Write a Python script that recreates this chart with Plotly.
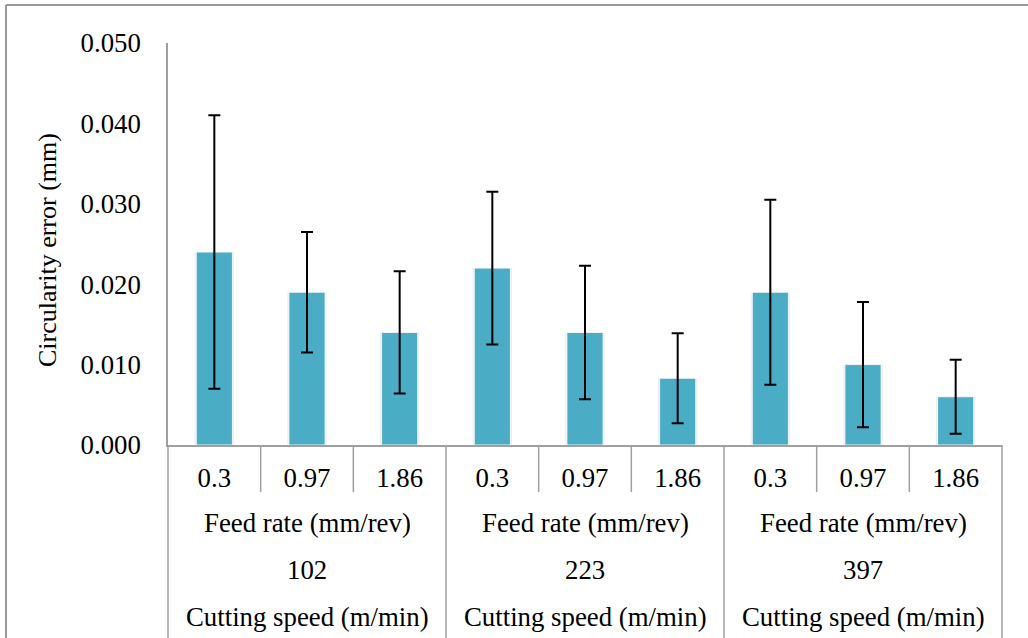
import plotly.graph_objects as go

# ---------------- data ----------------
cutting_speeds = ["102", "223", "397"]
feed_rates = ["0.3", "0.97", "1.86"]
circularity_error = [0.024, 0.019, 0.014, 0.022, 0.014, 0.0083, 0.019, 0.010, 0.006]
error_sd = [0.017, 0.0075, 0.0076, 0.0095, 0.0083, 0.0056, 0.0115, 0.0078, 0.0046]
y_ticks = [0.0, 0.01, 0.02, 0.03, 0.04, 0.05]
y_ticktext = ["0.000", "0.010", "0.020", "0.030", "0.040", "0.050"]
feed_title = "Feed rate (mm/rev)"
speed_title = "Cutting speed (m/min)"
y_title = "Circularity error (mm)"

# ---------------- layout helpers ----------------
W, H = 1028, 638
# plot area in window pixels: x 168..1002, y 43..445
L, R, T, B = 168, 1028 - 1002, 43, 638 - 445
PW, PH = W - L - R, H - T - B


def px_x(p):
    """window pixel x -> paper x"""
    return (p - L) / PW


def px_y(p):
    """window pixel y -> paper y"""
    return (H - B - p) / PH


FONT = "Liberation Serif, Times New Roman, serif"
FS = 26.8
FS_TITLE = 26
GRAY = "#A0A0A0"

n_groups = len(cutting_speeds)
n_feed = len(feed_rates)
n_total = n_groups * n_feed
x_pos = list(range(n_total))
tick_text = [feed_rates[i % n_feed] for i in range(n_total)]

fig = go.Figure()
# soft shadow behind bars
fig.add_trace(go.Bar(
    x=x_pos, y=circularity_error, width=0.425,
    marker=dict(color="rgba(0,0,0,0.07)", line=dict(width=0)),
    showlegend=False, hoverinfo="skip",
))
fig.add_trace(go.Bar(
    x=x_pos,
    y=circularity_error,
    width=0.39,
    marker=dict(color="#4BACC6", line=dict(color="rgba(255,255,255,0.85)", width=1)),
    error_y=dict(type="data", array=error_sd, visible=True,
                 color="black", thickness=2, width=6),
    showlegend=False,
))

shapes = []
# category dividers (short inside groups, long between groups)
for i in range(n_total + 1):
    long = (i % n_feed == 0)
    shapes.append(dict(type="line", xref="paper", yref="paper",
                       x0=i / n_total, x1=i / n_total,
                       y0=0, y1=px_y(640) if long else px_y(492),
                       line=dict(color=GRAY, width=1.5)))
# outer chart border (top and left)
shapes.append(dict(type="line", xref="paper", yref="paper",
                   x0=px_x(6), x1=px_x(1030), y0=px_y(5), y1=px_y(5),
                   line=dict(color="#9A9A9A", width=2)))
shapes.append(dict(type="line", xref="paper", yref="paper",
                   x0=px_x(6), x1=px_x(6), y0=px_y(5), y1=px_y(640),
                   line=dict(color="#9A9A9A", width=2)))

annotations = []
for g, spd in enumerate(cutting_speeds):
    xc = g * n_feed + (n_feed - 1) / 2
    annotations.append(dict(x=xc, xref="x", y=px_y(523), yref="paper",
                            text=feed_title, showarrow=False,
                            xanchor="center", yanchor="middle",
                            font=dict(family=FONT, size=FS, color="black")))
    annotations.append(dict(x=xc, xref="x", y=px_y(570), yref="paper",
                            text=spd, showarrow=False,
                            xanchor="center", yanchor="middle",
                            font=dict(family=FONT, size=FS, color="black")))
    annotations.append(dict(x=xc, xref="x", y=px_y(617), yref="paper",
                            text=speed_title, showarrow=False,
                            xanchor="center", yanchor="middle",
                            font=dict(family=FONT, size=FS, color="black")))
annotations.append(dict(x=px_x(47), xref="paper", y=px_y(250), yref="paper",
                        text=y_title, showarrow=False, textangle=-90,
                        xanchor="center", yanchor="middle",
                        font=dict(family=FONT, size=FS_TITLE, color="black")))

fig.update_layout(
    width=W, height=H,
    margin=dict(l=L, r=R, t=T, b=B, pad=0),
    paper_bgcolor="white", plot_bgcolor="white",
    font=dict(family=FONT, size=FS, color="black"),
    shapes=shapes,
    annotations=annotations,
    barmode="overlay",
    xaxis=dict(range=[-0.5, n_total - 0.5], tickmode="array",
               tickvals=x_pos, ticktext=tick_text,
               ticks="outside", ticklen=8, tickcolor="rgba(0,0,0,0)",
               showline=True, linecolor=GRAY, linewidth=1.5,
               showgrid=False, zeroline=False, fixedrange=True,
               tickfont=dict(family=FONT, size=FS, color="black")),
    yaxis=dict(range=[0, 0.05], tickmode="array",
               tickvals=y_ticks, ticktext=y_ticktext,
               ticks="outside", ticklen=20, tickcolor="rgba(0,0,0,0)",
               showline=True, linecolor=GRAY, linewidth=1.5,
               showgrid=False, zeroline=False, fixedrange=True,
               tickfont=dict(family=FONT, size=FS, color="black")),
)

fig.write_html(
    "out.html",
    config={"displayModeBar": False},
    post_script="document.body.style.margin='0px';document.body.style.overflow='hidden';",
)
